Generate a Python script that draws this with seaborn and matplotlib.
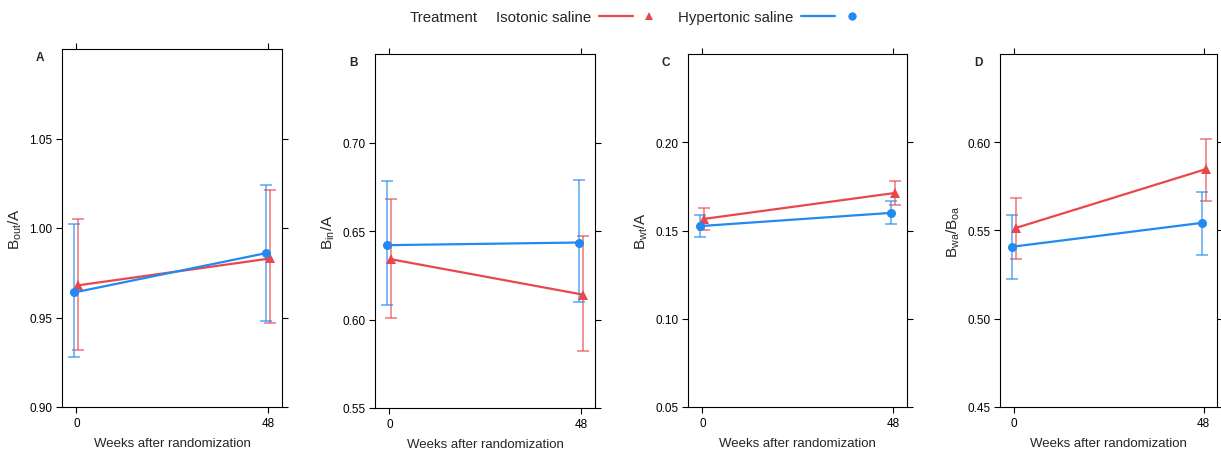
import numpy as np
import pandas as pd
import matplotlib
matplotlib.use("Agg")
import matplotlib.pyplot as plt
import seaborn as sns
from matplotlib.lines import Line2D
from matplotlib.legend_handler import HandlerTuple

# data (mean and 95% CI)
weeks = [0, 48]
treatments = ["Isotonic saline", "Hypertonic saline"]
panel_letters = ["A", "B", "C", "D"]
ylabels = [r"B$_{\mathrm{out}}$/A", r"B$_{\mathrm{in}}$/A", r"B$_{\mathrm{wt}}$/A", r"B$_{\mathrm{wa}}$/B$_{\mathrm{oa}}$"]
yticks = [[0.90, 0.95, 1.00, 1.05], [0.55, 0.60, 0.65, 0.70], [0.05, 0.10, 0.15, 0.20], [0.45, 0.50, 0.55, 0.60]]

# A: Bout/A
A_iso = [0.968, 0.983]
A_iso_lo = [0.932, 0.947]
A_iso_hi = [1.005, 1.021]
A_hyp = [0.964, 0.986]
A_hyp_lo = [0.928, 0.948]
A_hyp_hi = [1.002, 1.024]

# B: Bin/A
B_iso = [0.634, 0.614]
B_iso_lo = [0.601, 0.582]
B_iso_hi = [0.668, 0.647]
B_hyp = [0.642, 0.6435]
B_hyp_lo = [0.608, 0.610]
B_hyp_hi = [0.678, 0.679]

# C: Bwt/A
C_iso = [0.1566, 0.1713]
C_iso_lo = [0.1504, 0.1644]
C_iso_hi = [0.1629, 0.1783]
C_hyp = [0.1525, 0.160]
C_hyp_lo = [0.1462, 0.1536]
C_hyp_hi = [0.1585, 0.1668]

# D: Bwa/Boa
D_iso = [0.5515, 0.5847]
D_iso_lo = [0.5337, 0.5667]
D_iso_hi = [0.5686, 0.602]
D_hyp = [0.5408, 0.5543]
D_hyp_lo = [0.5228, 0.536]
D_hyp_hi = [0.5587, 0.572]

panel_data = {
    "A": (A_iso, A_iso_lo, A_iso_hi, A_hyp, A_hyp_lo, A_hyp_hi),
    "B": (B_iso, B_iso_lo, B_iso_hi, B_hyp, B_hyp_lo, B_hyp_hi),
    "C": (C_iso, C_iso_lo, C_iso_hi, C_hyp, C_hyp_lo, C_hyp_hi),
    "D": (D_iso, D_iso_lo, D_iso_hi, D_hyp, D_hyp_lo, D_hyp_hi),
}

colors = {"Isotonic saline": "#E8474C", "Hypertonic saline": "#2189F0"}
markers = {"Isotonic saline": "^", "Hypertonic saline": "o"}
dodge = {"Isotonic saline": 0.5, "Hypertonic saline": -0.5}

sns.set_style("ticks")
plt.rcParams["font.family"] = ["Liberation Sans", "DejaVu Sans"]
plt.rcParams["mathtext.fontset"] = "custom"
plt.rcParams["mathtext.rm"] = "Liberation Sans"
plt.rcParams["mathtext.it"] = "Liberation Sans:italic"
plt.rcParams["mathtext.bf"] = "Liberation Sans:bold"

fig = plt.figure(figsize=(12.21, 4.52), dpi=100)
W, H = 1221, 452
# axes boxes in pixels: left, right, top, bottom
boxes = [(62, 282, 50, 408), (375, 595, 55, 409), (688, 907, 55, 408), (1000, 1217, 55, 408)]
ylims = [(0.90, 1.10), (0.55, 0.75), (0.05, 0.25), (0.45, 0.65)]

for i, letter in enumerate(panel_letters):
    l, r, t, b = boxes[i]
    ax = fig.add_axes([l / W, 1 - b / H, (r - l) / W, (b - t) / H])
    iso, iso_lo, iso_hi, hyp, hyp_lo, hyp_hi = panel_data[letter]

    rows = []
    for k, w in enumerate(weeks):
        rows.append(dict(treatment="Isotonic saline", week=w, mean=iso[k], lo=iso_lo[k], hi=iso_hi[k]))
        rows.append(dict(treatment="Hypertonic saline", week=w, mean=hyp[k], lo=hyp_lo[k], hi=hyp_hi[k]))
    df = pd.DataFrame(rows)
    df["xpos"] = df["week"] + df["treatment"].map(dodge)

    for tr in ["Isotonic saline", "Hypertonic saline"]:
        sub = df[df["treatment"] == tr]
        ax.errorbar(sub["xpos"], sub["mean"],
                    yerr=[sub["mean"] - sub["lo"], sub["hi"] - sub["mean"]],
                    fmt="none", ecolor=colors[tr], alpha=0.75,
                    elinewidth=1.1, capsize=4.5, capthick=1.1, zorder=2)

    sns.lineplot(data=df, x="xpos", y="mean", hue="treatment", style="treatment",
                 hue_order=treatments, style_order=treatments,
                 palette=colors, markers=markers, dashes=False, ax=ax, legend=False,
                 linewidth=1.6, markersize=6.5, markeredgewidth=0, zorder=3)

    ax.set_xlim(-3.6, 51.4)
    ax.set_ylim(*ylims[i])
    ax.set_xticks(weeks)
    ax.set_xticklabels([str(w) for w in weeks])
    ax.set_yticks(yticks[i])
    ax.set_yticklabels([f"{v:.2f}" for v in yticks[i]])
    ax.tick_params(direction="out", top=True, right=True, labeltop=False, labelright=False,
                   length=4, width=0.8, labelsize=8.5, colors="black", pad=3)
    for sp in ax.spines.values():
        sp.set_linewidth(0.8)
        sp.set_color("black")
    ax.set_xlabel("Weeks after randomization", fontsize=9.5, labelpad=6)
    ax.set_ylabel(ylabels[i], fontsize=11, labelpad=4)
    ax.text(-22 / (r - l), 1 - 8 / (b - t), letter, transform=ax.transAxes,
            fontsize=8.5, fontweight="bold", ha="center", va="center")

# legend on top
fig.text(410 / W, 1 - 18 / H, "Treatment", fontsize=10.8, ha="left", va="center")
handles = []
for tr in treatments:
    ln = Line2D([], [], color=colors[tr], linewidth=1.6)
    mk = Line2D([], [], color=colors[tr], marker=markers[tr], linestyle="none",
                markersize=6, markeredgewidth=0)
    handles.append((ln, mk))
fig.legend(handles, treatments, handler_map={tuple: HandlerTuple(ndivide=None, pad=0.0)},
           loc="center left", bbox_to_anchor=(496 / W, 1 - 18 / H), ncol=2, frameon=False,
           markerfirst=False, handlelength=4.5, handletextpad=0.5, columnspacing=0.8,
           fontsize=10.8, borderpad=0, borderaxespad=0)

fig.savefig("out.png", dpi=100)
